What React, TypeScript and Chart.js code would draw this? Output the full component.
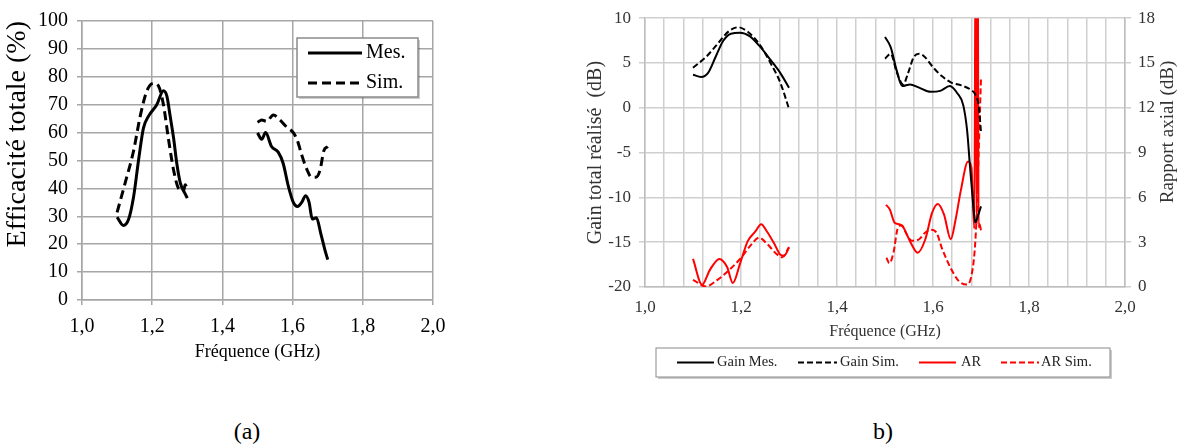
import React, { useEffect, useRef } from "react";
import { Chart, registerables } from "chart.js";

Chart.register(...registerables);

const SERIF = "'Liberation Serif', 'Times New Roman', serif";

// ---------- (a) Efficacité totale ----------
const effMesFreq = [1.10, 1.118, 1.133, 1.147, 1.161, 1.175, 1.19, 1.213, 1.232, 1.242, 1.251, 1.261, 1.27, 1.28, 1.294, 1.30, 1.40, 1.50, 1.512, 1.523, 1.54, 1.559, 1.573, 1.588, 1.602, 1.614, 1.626, 1.637, 1.647, 1.656, 1.668, 1.68, 1.692, 1.70];
const effMesVal = [29.7, 26.7, 29, 37, 50, 61.6, 66, 70, 75, 73, 66, 58, 49, 42, 38, 36.5, null, 59.9, 57.6, 60, 55, 53, 49, 40.7, 35, 33.5, 35, 37.4, 35, 29, 29.5, 24, 18, 14.5];
const effSimFreq = [1.10, 1.123, 1.147, 1.166, 1.185, 1.204, 1.218, 1.232, 1.246, 1.261, 1.275, 1.289, 1.294, 1.30, 1.40, 1.50, 1.512, 1.526, 1.545, 1.564, 1.583, 1.602, 1.614, 1.626, 1.64, 1.654, 1.666, 1.678, 1.689, 1.70];
const effSimVal = [31.4, 42, 53.5, 66, 75, 77.7, 76.7, 70, 58, 46.5, 40, 39, 41.3, 40, null, 63.7, 64.5, 64, 66.3, 64.5, 62, 60, 57, 52, 47, 44, 44, 46.5, 53.5, 55];

// ---------- (b) Gain / Rapport axial ----------
const gainMesFreq = [1.10, 1.117, 1.131, 1.147, 1.163, 1.179, 1.198, 1.218, 1.238, 1.262, 1.282, 1.30, 1.40, 1.50, 1.512, 1.524, 1.536, 1.552, 1.571, 1.595, 1.615, 1.635, 1.651, 1.663, 1.671, 1.677, 1.683, 1.688, 1.694, 1.70];
const gainMesVal = [3.69, 3.44, 3.87, 5.67, 7.48, 8.27, 8.38, 8.0, 6.93, 5.31, 3.87, 2.25, null, 7.9, 6.75, 4.23, 2.43, 2.61, 2.25, 1.78, 1.89, 2.43, 1.6, 0.3, -2.5, -6.5, -10.3, -12.8, -12, -11];
const gainSimFreq = [1.10, 1.127, 1.151, 1.175, 1.194, 1.214, 1.238, 1.262, 1.282, 1.30, 1.40, 1.50, 1.512, 1.524, 1.538, 1.548, 1.56, 1.571, 1.583, 1.599, 1.619, 1.639, 1.659, 1.679, 1.688, 1.695, 1.70];
const gainSimVal = [4.48, 5.67, 7.12, 8.56, 8.99, 8.49, 7.12, 4.95, 2.79, -0.1, null, 5.49, 6.03, 4.05, 2.6, 3.87, 5.67, 6.03, 5.67, 4.59, 3.51, 2.79, 2.5, 2.0, 1.5, 0.3, -2.7];
const arMesFreq = [1.10, 1.119, 1.135, 1.155, 1.171, 1.183, 1.198, 1.214, 1.23, 1.242, 1.254, 1.27, 1.282, 1.29, 1.30, 1.40, 1.502, 1.51, 1.52, 1.53, 1.538, 1.553, 1.568, 1.584, 1.598, 1.61, 1.623, 1.637, 1.647, 1.658, 1.673, 1.68, 1.686, 1.689, 1.691, 1.693, 1.695, 1.697, 1.70];
const arMesVal = [1.88, 0.15, 1.13, 1.88, 1.34, 0.26, 1.56, 3.07, 3.72, 4.2, 3.72, 2.86, 2.16, 2.1, 2.64, null, 5.5, 5.2, 4.3, 4.2, 4.0, 3.0, 2.3, 3.2, 4.96, 5.56, 4.85, 3.2, 4.5, 6.47, 8.4, 8.0, 3.9, 25, 4.2, 25, 4.0, 4.2, 3.8];
const arSimFreq = [1.10, 1.127, 1.151, 1.175, 1.198, 1.218, 1.238, 1.254, 1.274, 1.286, 1.30, 1.40, 1.503, 1.509, 1.518, 1.526, 1.535, 1.545, 1.556, 1.57, 1.584, 1.596, 1.607, 1.619, 1.637, 1.654, 1.67, 1.679, 1.689, 1.694, 1.698, 1.70];
const arSimVal = [0.48, 0.04, 0.48, 1.13, 1.88, 2.7, 3.3, 2.9, 2.21, 1.99, 2.68, null, 1.96, 1.59, 2.35, 3.87, 4.13, 3.54, 3.1, 3.17, 3.65, 3.83, 3.65, 2.56, 1.26, 0.39, 0.17, 0.61, 3.5, 7.8, 12, 14];

// axis ranges
const freqRange = [1.0, 2.0];
const effRange = [0, 100];
const gainRange = [-20, 10];
const arRange = [0, 18];

const toPoints = (xs: number[], ys: (number | null)[]) => xs.map((x, i) => ({ x, y: ys[i] }));
const fmtGHz = (v: number) => (Math.round(v * 10) / 10).toFixed(1).replace(".", ",");

const legendA = {
  id: "legendA",
  afterDraw(chart: any) {
    const ctx = chart.ctx;
    const x = 297, y = 38, w = 121, h = 59;
    ctx.save();
    ctx.fillStyle = "rgba(0,0,0,0.2)";
    ctx.fillRect(x + 2, y + 2, w, h);
    ctx.fillStyle = "#fff";
    ctx.fillRect(x, y, w, h);
    ctx.strokeStyle = "#8a8a8a";
    ctx.lineWidth = 1.5;
    ctx.strokeRect(x, y, w, h);
    chart.data.datasets.forEach((ds: any, i: number) => {
      const ly = 53 + i * 30;
      ctx.beginPath();
      ctx.setLineDash(ds.borderDash || []);
      ctx.strokeStyle = ds.borderColor;
      ctx.lineWidth = ds.borderWidth;
      ctx.moveTo(308, ly);
      ctx.lineTo(362, ly);
      ctx.stroke();
      ctx.setLineDash([]);
      ctx.fillStyle = "#000";
      ctx.font = `20px ${SERIF}`;
      ctx.textBaseline = "middle";
      ctx.textAlign = "left";
      ctx.fillText(ds.label, 366, ly);
    });
    ctx.restore();
  },
};

const legendB = {
  id: "legendB",
  afterDraw(chart: any) {
    const ctx = chart.ctx;
    const x = 76, y = 348, w = 454, h = 29;
    ctx.save();
    ctx.fillStyle = "rgba(0,0,0,0.2)";
    ctx.fillRect(x + 2, y + 2, w, h);
    ctx.fillStyle = "#fff";
    ctx.fillRect(x, y, w, h);
    ctx.strokeStyle = "#8a8a8a";
    ctx.lineWidth = 1;
    ctx.strokeRect(x, y, w, h);
    const slots = [
      [97, 134, 137],
      [218, 257, 260],
      [339, 376, 381],
      [421, 459, 461],
    ];
    const ly = 362.5;
    chart.data.datasets.forEach((ds: any, i: number) => {
      const [x1, x2, tx] = slots[i];
      ctx.beginPath();
      ctx.setLineDash(ds.borderDash || []);
      ctx.strokeStyle = ds.borderColor;
      ctx.lineWidth = ds.borderWidth;
      ctx.moveTo(x1, ly);
      ctx.lineTo(x2, ly);
      ctx.stroke();
      ctx.setLineDash([]);
      ctx.fillStyle = "#222";
      ctx.font = `14.5px ${SERIF}`;
      ctx.textBaseline = "middle";
      ctx.textAlign = "left";
      ctx.fillText(ds.label, tx, ly);
    });
    // right axis title (reads bottom-to-top)
    ctx.translate(588, 132);
    ctx.rotate(-Math.PI / 2);
    ctx.font = `19px ${SERIF}`;
    ctx.fillStyle = "#333";
    ctx.textAlign = "center";
    ctx.textBaseline = "middle";
    ctx.fillText("Rapport axial (dB)", 0, 0);
    ctx.restore();
  },
};

function configA(): any {
  const grid = "#a6a6a6";
  return {
    type: "line",
    data: {
      datasets: [
        { label: "Mes.", data: toPoints(effMesFreq, effMesVal), borderColor: "#000", borderWidth: 3, pointRadius: 0, cubicInterpolationMode: "monotone", spanGaps: false, fill: false },
        { label: "Sim.", data: toPoints(effSimFreq, effSimVal), borderColor: "#000", borderWidth: 3, borderDash: [9, 5], pointRadius: 0, cubicInterpolationMode: "monotone", spanGaps: false, fill: false },
      ],
    },
    options: {
      animation: false,
      responsive: false,
      layout: { padding: { top: 13, right: 27, left: 0, bottom: 0 } },
      plugins: { legend: { display: false }, tooltip: { enabled: false } },
      scales: {
        x: {
          type: "linear",
          min: freqRange[0],
          max: freqRange[1],
          afterFit: (s: any) => { s.height = 75; },
          ticks: { stepSize: 0.2, autoSkip: false, maxRotation: 0, padding: 10, color: "#000", font: { family: SERIF, size: 20 }, callback: (v: any) => fmtGHz(Number(v)) },
          grid: { color: grid, lineWidth: 1.5, tickLength: 5 },
          border: { color: grid, width: 1.5 },
          title: { display: true, text: "Fréquence (GHz)", color: "#000", font: { family: SERIF, size: 18 }, padding: { top: 0, bottom: 12 } },
        },
        y: {
          min: effRange[0],
          max: effRange[1],
          afterFit: (s: any) => { s.width = 82; },
          ticks: { stepSize: 10, padding: 9, color: "#000", font: { family: SERIF, size: 20 } },
          grid: { color: grid, lineWidth: 1.5, tickLength: 5 },
          border: { color: grid, width: 1.5 },
          title: { display: true, text: "Efficacité totale (%)", align: "end", color: "#000", font: { family: SERIF, size: 28 }, padding: { top: 1, bottom: 0 } },
        },
      },
    },
    plugins: [legendA],
  };
}

function configB(): any {
  const grid = "#cfcfcf";
  const base = { pointRadius: 0, cubicInterpolationMode: "monotone", spanGaps: false, fill: false, borderWidth: 2 };
  return {
    type: "line",
    data: {
      datasets: [
        { ...base, label: "Gain Mes.", data: toPoints(gainMesFreq, gainMesVal), borderColor: "#000", yAxisID: "y" },
        { ...base, label: "Gain Sim.", data: toPoints(gainSimFreq, gainSimVal), borderColor: "#000", borderDash: [6, 3], yAxisID: "y" },
        { ...base, label: "AR", data: toPoints(arMesFreq, arMesVal), borderColor: "#ff0000", yAxisID: "y1" },
        { ...base, label: "AR Sim.", data: toPoints(arSimFreq, arSimVal), borderColor: "#ff0000", borderDash: [6, 3], yAxisID: "y1" },
      ],
    },
    options: {
      animation: false,
      responsive: false,
      layout: { padding: { top: 10, right: 0, left: 0, bottom: 47 } },
      plugins: { legend: { display: false }, tooltip: { enabled: false } },
      scales: {
        x: {
          type: "linear",
          min: freqRange[0],
          max: freqRange[1],
          afterFit: (s: any) => { s.height = 56; },
          ticks: {
            stepSize: 0.04, autoSkip: false, maxRotation: 0, padding: 10, color: "#333", font: { family: SERIF, size: 17 },
            callback: (v: any) => (Math.round(Number(v) * 100) % 20 === 0 ? fmtGHz(Number(v)) : ""),
          },
          grid: { color: grid, lineWidth: 1.5, drawTicks: false },
          border: { color: "#bdbdbd", width: 1.5 },
          title: { display: true, text: "Fréquence (GHz)", color: "#333", font: { family: SERIF, size: 16 }, padding: { top: 0, bottom: 2 } },
        },
        y: {
          position: "left",
          min: gainRange[0],
          max: gainRange[1],
          afterFit: (s: any) => { s.width = 65; },
          ticks: { stepSize: 5, padding: 8, color: "#333", font: { family: SERIF, size: 17 } },
          grid: { color: grid, lineWidth: 1.5, tickLength: 6 },
          border: { color: "#bdbdbd", width: 1.5 },
          title: { display: true, text: "Gain total réalisé  (dB)", color: "#333", font: { family: SERIF, size: 20 }, padding: { top: 4, bottom: 0 } },
        },
        y1: {
          position: "right",
          min: arRange[0],
          max: arRange[1],
          afterFit: (s: any) => { s.width = 53; },
          ticks: { stepSize: 3, padding: 7, color: "#333", font: { family: SERIF, size: 17 } },
          grid: { color: grid, lineWidth: 1.5, tickLength: 6, drawOnChartArea: false },
          border: { color: "#bdbdbd", width: 1.5 },
        },
      },
    },
    plugins: [legendB],
  };
}

export default function App() {
  const refA = useRef<HTMLCanvasElement>(null);
  const refB = useRef<HTMLCanvasElement>(null);

  useEffect(() => {
    const a = new Chart(refA.current as HTMLCanvasElement, configA());
    const b = new Chart(refB.current as HTMLCanvasElement, configB());
    return () => {
      a.destroy();
      b.destroy();
    };
  }, []);

  return (
    <div style={{ position: "absolute", left: 0, top: 0, width: 1178, height: 448, background: "#fff", fontFamily: SERIF, overflow: "hidden" }}>
      <canvas ref={refA} width={460} height={375} style={{ position: "absolute", left: 0, top: 0, width: 460, height: 375 }} />
      <canvas ref={refB} width={598} height={390} style={{ position: "absolute", left: 580, top: 0, width: 598, height: 390 }} />
      <div style={{ position: "absolute", left: 207, width: 80, top: 417, height: 28, lineHeight: "28px", textAlign: "center", fontSize: 24, color: "#000" }}>(a)</div>
      <div style={{ position: "absolute", left: 843, width: 80, top: 417, height: 28, lineHeight: "28px", textAlign: "center", fontSize: 24, color: "#000" }}>b)</div>
    </div>
  );
}
